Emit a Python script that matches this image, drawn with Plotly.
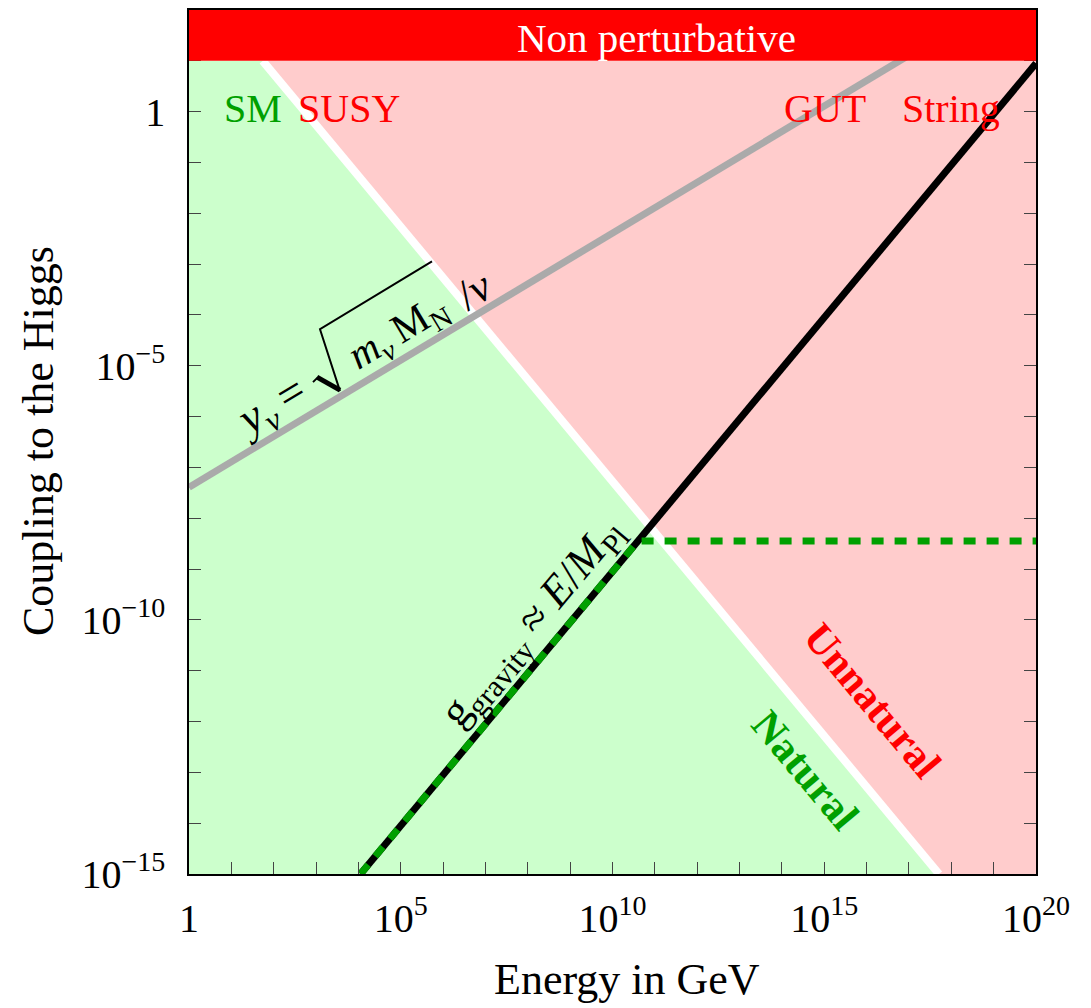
import plotly.graph_objects as go

# ---------------- data ----------------
# energy axis: 1 GeV .. 1e20 GeV ; coupling axis: 1e-15 .. 1e2
x_range_exp = [0, 20]
y_range_exp = [-15, 2]

# natural / unnatural boundary (white line)
boundary_E = [10.0 ** 1.74, 10.0 ** 17.71]
boundary_g = [10.0, 1e-15]

# non-perturbative limit
pert_limit = 10.0

# seesaw neutrino Yukawa  y_nu = sqrt(m_nu M_N)/v   (grey line)
seesaw_E = [1.0, 10.0 ** 18.78]
seesaw_g = [10.0 ** -7.39, 10.0 ** 2.0]

# gravitational coupling g ~ E / M_Pl (black line)
grav_E = [10.0 ** 4.05, 1e20]
grav_g = [1e-15, 10.0 ** 0.95]

# green dashed line (gravity saturating at natural value)
nat_E = [10.0 ** 4.05, 10.0 ** 10.6, 1e20]
nat_g = [1e-15, 10.0 ** -8.45, 10.0 ** -8.45]

# ticks
x_tick_exps = list(range(0, 21))
x_tick_labels = {0: "1", 5: "10<sup>5</sup>", 10: "10<sup>10</sup>",
                 15: "10<sup>15</sup>", 20: "10<sup>20</sup>"}
y_tick_exps = list(range(-15, 3))
y_tick_labels = {0: "1", -5: "10<sup>\u22125</sup>", -10: "10<sup>\u221210</sup>",
                 -15: "10<sup>\u221215</sup>"}

# ---------------- styling ----------------
FONT = "Liberation Serif, Times New Roman, serif"
OFF = 8                      # page body margin of the browser
W, H = 1091 - OFF, 1008 - OFF
ML, MT = 181, 0
PW, PH = 847, 866
MR, MB = W - ML - PW, H - MT - PH

GREEN_FILL = "#ccffcc"
RED_FILL = "#ffcccc"
GREEN = "#00a000"
RED = "#ff0000"


def P(px, py):
    """page pixel position -> paper coordinates"""
    return (px - OFF - ML) / PW, (MT + PH - (py - OFF)) / PH


xmin, xmax = 10.0 ** x_range_exp[0], 10.0 ** x_range_exp[1]
ymin = 10.0 ** y_range_exp[0]

fig = go.Figure()

# natural region
fig.add_trace(go.Scatter(
    x=[xmin, xmin, boundary_E[0], boundary_E[1], xmin],
    y=[ymin, pert_limit, pert_limit, boundary_g[1], ymin],
    mode="lines", fill="toself", fillcolor=GREEN_FILL,
    line=dict(width=0), hoverinfo="skip", showlegend=False))
# unnatural region
fig.add_trace(go.Scatter(
    x=[boundary_E[0], xmax, xmax, boundary_E[1], boundary_E[0]],
    y=[pert_limit, pert_limit, ymin, boundary_g[1], pert_limit],
    mode="lines", fill="toself", fillcolor=RED_FILL,
    line=dict(width=0), hoverinfo="skip", showlegend=False))
# white boundary
fig.add_trace(go.Scatter(x=boundary_E, y=boundary_g, mode="lines",
                         line=dict(color="white", width=8), showlegend=False))
# grey seesaw line
fig.add_trace(go.Scatter(x=seesaw_E, y=seesaw_g, mode="lines",
                         line=dict(color="#aaaaaa", width=7), showlegend=False))
# black gravity line
fig.add_trace(go.Scatter(x=grav_E, y=grav_g, mode="lines",
                         line=dict(color="black", width=7), showlegend=False))
# green dashed
fig.add_trace(go.Scatter(x=nat_E, y=nat_g, mode="lines",
                         line=dict(color=GREEN, width=7, dash="12px,11px"),
                         showlegend=False))

# non perturbative band (covers axes)
fig.add_shape(type="rect", xref="paper", yref="y", x0=0, x1=1,
              y0=pert_limit, y1=10.0 ** y_range_exp[1],
              fillcolor=RED, line=dict(width=0), layer="above")

ann = []


def text(px, py, s, size=40, color="black", angle=0, xanchor="center", bold=False):
    x, y = P(px, py)
    if bold:
        s = "<b>" + s + "</b>"
    ann.append(dict(xref="paper", yref="paper", x=x, y=y, text=s, showarrow=False,
                    textangle=angle, xanchor=xanchor, yanchor="middle",
                    font=dict(family=FONT, size=size, color=color)))


text(656, 36, "Non perturbative", size=41, color="white")
text(253, 107, "SM", color=GREEN)
text(349, 107, "SUSY", color=RED)
text(825, 107, "GUT", color=RED)
text(951, 107, "String", color=RED)
text(805, 770, "Natural", size=42, color=GREEN, angle=50, bold=True)
text(872, 700, "Unnatural", size=42, color=RED, angle=50, bold=True)
text(533, 623, "g<sub>gravity</sub> \u2248 <i>E</i>/<i>M</i><sub>Pl</sub>", size=44, angle=-50)
text(272, 407, "<i>y</i><sub><i>\u03bd</i></sub>\u2009=", size=46, angle=-31)
text(399, 332, "<i>m</i><sub><i>\u03bd</i></sub>\u2009M<sub>N</sub>", size=41, angle=-31)
text(474, 289, "/<i>v</i>", size=44, angle=-31)
# axis titles
text(627, 980, "Energy in GeV", size=44)
text(38, 440, "Coupling to the Higgs", size=44, angle=-90)


# radical sign
def path(points):
    pts = [P(a, b) for a, b in points]
    return "M " + " L ".join(f"{x:.5f},{y:.5f}" for x, y in pts)


fig.add_shape(type="path", xref="paper", yref="paper",
              path=path([(313, 381), (318, 376)]),
              line=dict(color="black", width=2), layer="above")
fig.add_shape(type="path", xref="paper", yref="paper",
              path=path([(317, 376), (340, 389)]),
              line=dict(color="black", width=5), layer="above")
fig.add_shape(type="path", xref="paper", yref="paper",
              path=path([(340, 390), (320, 328), (432, 260)]),
              line=dict(color="black", width=2), layer="above")

axis_common = dict(type="log", showgrid=False, zeroline=False, showline=True,
                   linecolor="black", linewidth=1.5, ticks="inside", ticklen=12,
                   tickwidth=1.2, tickcolor="#444", mirror="ticks",
                   tickfont=dict(family=FONT, size=40, color="black"))

fig.update_layout(
    width=W, height=H, margin=dict(l=ML, r=MR, t=MT, b=MB),
    paper_bgcolor="white", plot_bgcolor="white",
    annotations=ann, showlegend=False,
    xaxis=dict(range=x_range_exp, tickmode="array",
               tickvals=[10.0 ** k for k in x_tick_exps],
               ticktext=[x_tick_labels.get(k, "") for k in x_tick_exps],
               ticklabelstandoff=8, **axis_common),
    yaxis=dict(range=y_range_exp, tickmode="array",
               tickvals=[10.0 ** k for k in y_tick_exps],
               ticktext=[y_tick_labels.get(k, "") for k in y_tick_exps],
               ticklabelstandoff=14, **axis_common),
)

fig.write_html("out.html")
